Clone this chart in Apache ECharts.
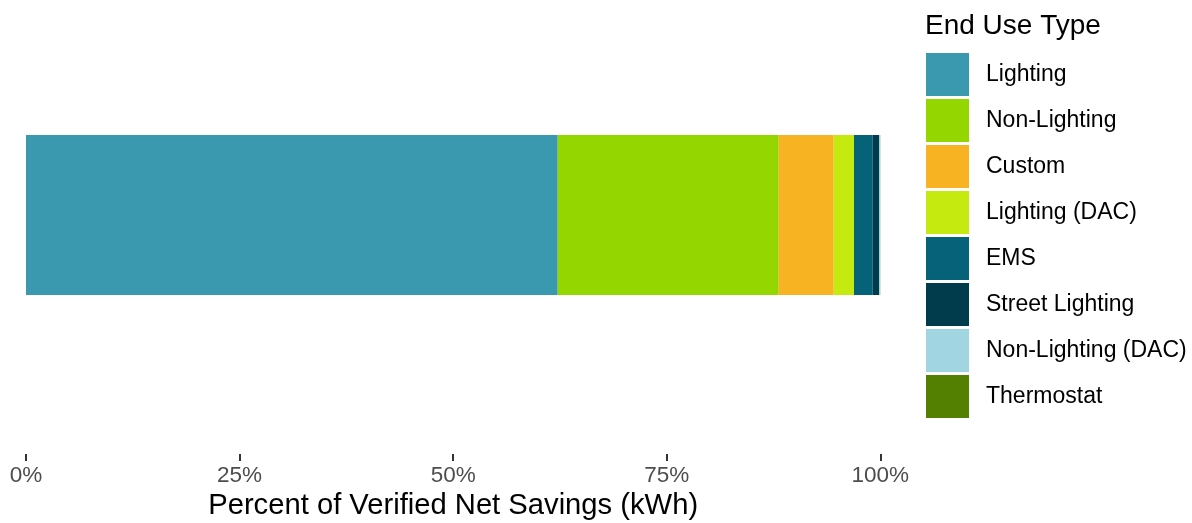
<!DOCTYPE html>
<html>
<head>
<meta charset="utf-8">
<script src="https://cdn.jsdelivr.net/npm/echarts@6/dist/echarts.min.js"></script>
<style>
html,body{margin:0;padding:0;background:#fff;}
#chart{width:1192px;height:523px;}
</style>
</head>
<body>
<div id="chart"></div>
<script>
const categories = ['Total'];
const seriesNames = ['Lighting', 'Non-Lighting', 'Custom', 'Lighting (DAC)', 'EMS', 'Street Lighting', 'Non-Lighting (DAC)', 'Thermostat'];
const seriesValues = [62.24, 25.87, 6.44, 2.37, 2.19, 0.77, 0.10, 0.02];
const seriesColors = ['#3A98AF', '#93D600', '#F8B323', '#C5EA10', '#056278', '#003C4B', '#A2D5E2', '#548000'];
const tickValues = [0, 25, 50, 75, 100];

const FONT = 'Liberation Sans';
const chart = echarts.init(document.getElementById('chart'), null, {renderer: 'canvas'});

const series = seriesNames.map((name, i) => ({
  name: name,
  type: 'bar',
  stack: 'total',
  barWidth: 160,
  data: [seriesValues[i]],
  itemStyle: {color: seriesColors[i]},
  emphasis: {disabled: true}
}));

chart.setOption({
  animation: false,
  backgroundColor: '#ffffff',
  title: {
    text: 'End Use Type',
    left: 925,
    top: 12,
    padding: 0,
    textStyle: {fontFamily: FONT, fontSize: 28, fontWeight: 'normal', color: '#000'}
  },
  legend: {
    orient: 'vertical',
    left: 926,
    top: 53,
    padding: 0,
    itemWidth: 43,
    itemHeight: 43,
    itemGap: 3,
    icon: 'rect',
    selectedMode: false,
    data: seriesNames,
    textStyle: {fontFamily: FONT, fontSize: 23, color: '#000', padding: [4, 0, 0, 12]}
  },
  grid: {left: 26, right: 311.7, top: 0, height: 430, containLabel: false, outerBoundsMode: 'none'},
  xAxis: {
    type: 'value',
    min: tickValues[0],
    max: tickValues[tickValues.length - 1],
    interval: 25,
    offset: 24,
    name: 'Percent of Verified Net Savings (kWh)',
    nameLocation: 'middle',
    nameGap: 37,
    nameTextStyle: {fontFamily: FONT, fontSize: 29.2, color: '#000'},
    axisLine: {show: false},
    axisTick: {show: true, length: 7, lineStyle: {color: '#333', width: 2}},
    axisLabel: {formatter: '{value}%', fontFamily: FONT, fontSize: 22.5, color: '#4d4d4d', margin: 10},
    splitLine: {show: false}
  },
  yAxis: {
    type: 'category',
    data: categories,
    show: false
  },
  series: series
});
</script>
</body>
</html>
